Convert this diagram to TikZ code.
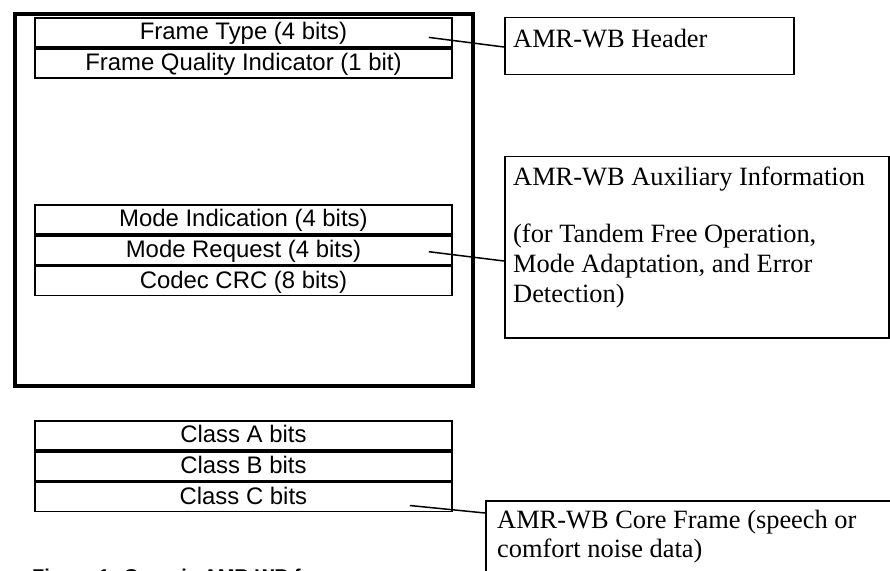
\documentclass[tikz,border=0pt]{standalone}
\usepackage{fontspec}
\setmainfont{Liberation Serif}
\newfontfamily\arialfont{Liberation Sans}
\usetikzlibrary{calc}
\begin{document}
\begin{tikzpicture}[x=1bp,y=-1bp,
  rowbox/.style={draw, line width=1.8bp, minimum width=417bp, minimum height=29bp,
    inner sep=0pt, text height=22bp, text depth=7bp,
    font=\arialfont\fontsize{24}{28}\selectfont, anchor=north west},
  framebox/.style={draw, line width=4bp, inner sep=0pt, anchor=north west},
  notebox/.style={draw, line width=1.5bp, inner sep=0pt, anchor=north west},
  notetext/.style={inner sep=0pt, anchor=base west, font=\fontsize{26.5}{30}\selectfont},
  conn/.style={draw, line width=1.5bp},
  captext/.style={inner sep=0pt, anchor=base west, font=\arialfont\bfseries\fontsize{20}{24}\selectfont}]
\useasboundingbox (0,0) rectangle (890,571);
\clip (0,0) rectangle (890,571);
\fill[white] (0,0) rectangle (890,571);

% outer thick frame
\node[framebox, minimum width=458bp, minimum height=372bp] (frame) at (13,12) {};

% header rows
\node[rowbox] (ft) at (34,17) {Frame Type (4 bits)};
\node[rowbox] (fq) at (ft.south west) {Frame Quality Indicator (1 bit)};

% auxiliary rows
\node[rowbox] (mi) at (34,204) {Mode Indication (4 bits)};
\node[rowbox] (mr) at (mi.south west) {Mode Request (4 bits)};
\node[rowbox] (crc) at (mr.south west) {Codec CRC (8 bits)};

% core rows
\node[rowbox] (ca) at (34,420) {Class A bits};
\node[rowbox] (cb) at (ca.south west) {Class B bits};
\node[rowbox] (cc) at (cb.south west) {Class C bits};

% note boxes
\node[notebox, minimum width=289bp, minimum height=57bp] (hdr) at (504,17) {};
\node[notetext] (hdrt) at (513,48) {AMR-WB Header};

\node[notebox, minimum width=384bp, minimum height=181bp] (aux) at (504,156) {};
\node[notetext] (auxa) at (513,186) {AMR-WB Auxiliary Information};
\node[notetext] (auxb) at (513,243) {(for Tandem Free Operation,};
\node[notetext] (auxc) at (513,272.5) {Mode Adaptation, and Error};
\node[notetext] (auxd) at (513,302) {Detection)};

\node[notebox, minimum width=420bp, minimum height=100bp] (core) at (485,500) {};
\node[notetext] (corea) at (497,528) {AMR-WB Core Frame (speech or};
\node[notetext] (coreb) at (497,557) {comfort noise data)};

% connectors
\coordinate (s1) at ($(ft.east)+(-24,5)$);
\coordinate (e1) at ($(hdr.north west)+(0,30)$);
\draw[conn] (s1) -- (e1);
\coordinate (s2) at ($(mr.east)+(-24,1.5)$);
\coordinate (e2) at ($(aux.north west)+(0,105)$);
\draw[conn] (s2) -- (e2);
\coordinate (s3) at ($(cc.east)+(-43,8.5)$);
\coordinate (e3) at ($(core.north west)+(0,13)$);
\draw[conn] (s3) -- (e3);

% caption, cut off by the lower edge as in the reference
\node[captext] (cap) at (32,583.5) {Figure 1: Generic AMR-WB frame};
\end{tikzpicture}
\end{document}
